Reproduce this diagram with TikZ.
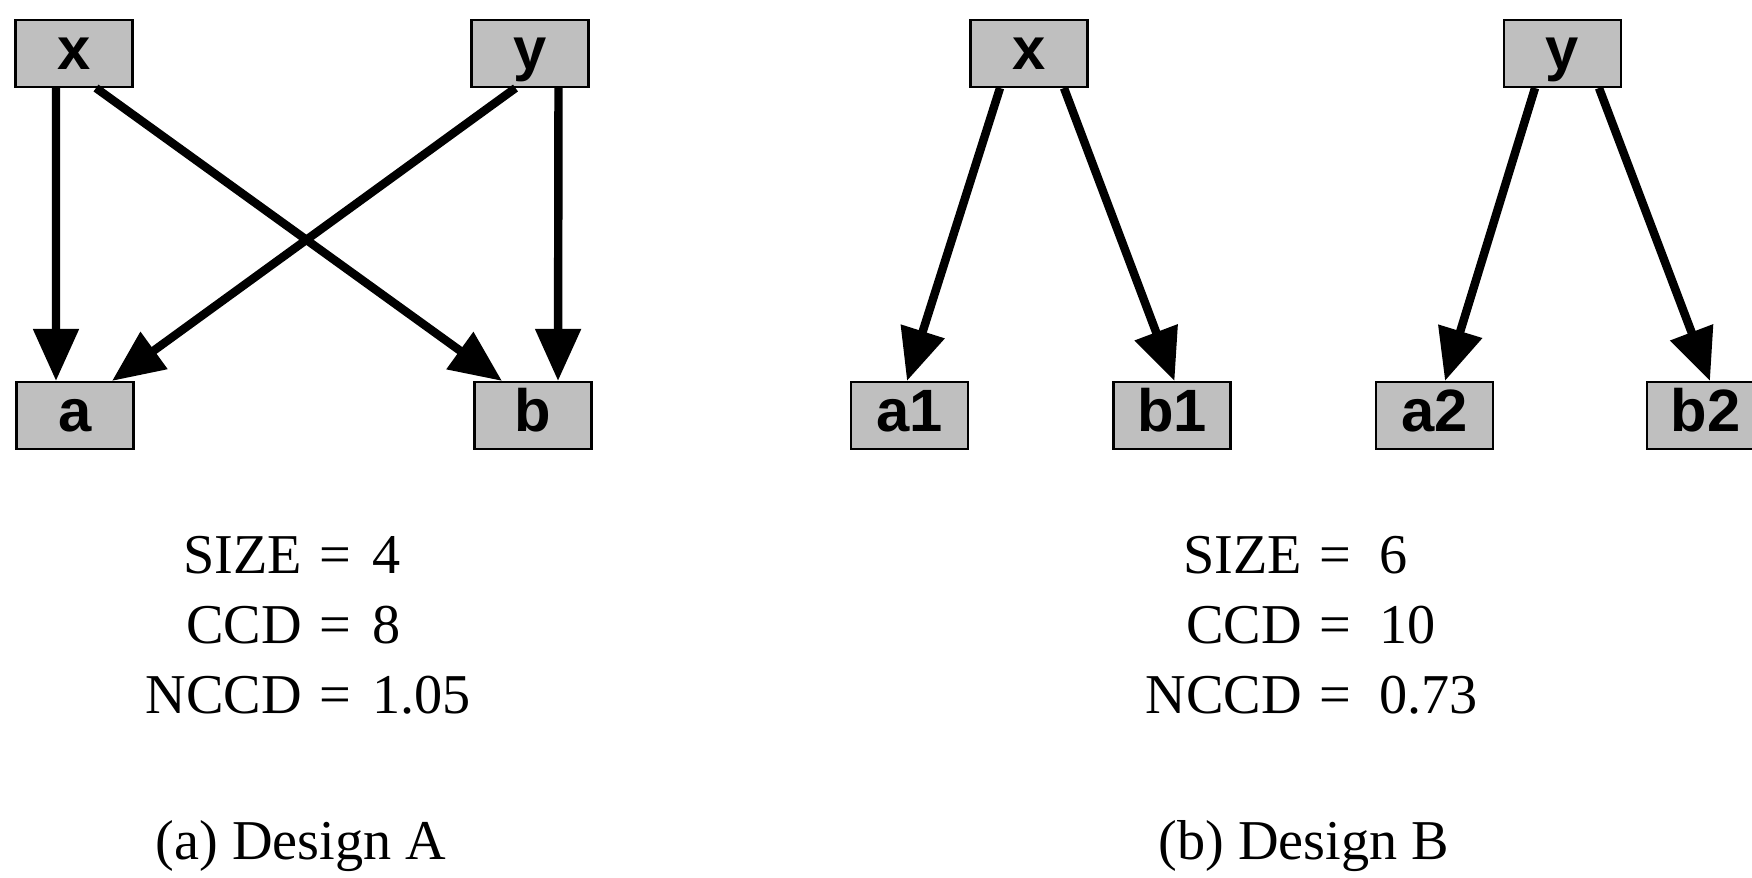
\documentclass[tikz,border=0pt]{standalone}
\usepackage{fontspec}
\setmainfont{Liberation Serif}
\newfontfamily\boxfont{Liberation Sans}
\usetikzlibrary{arrows.meta}

\begin{document}
\begin{tikzpicture}[
  cls/.style={draw, line width=0.6pt, fill=gray!50, minimum width=1.17cm, minimum height=0.67cm, inner sep=0pt, text height=12.5pt, text depth=3.4pt, font=\boxfont\bfseries\fontsize{17}{17}\selectfont},
  arr/.style={-{Triangle[length=5.2mm, width=4.4mm]}, line width=2.4pt},
  metric/.style={anchor=north west, inner sep=0pt, font=\fontsize{16}{19.9}\selectfont},
  subcap/.style={anchor=base, inner sep=0pt, font=\fontsize{16}{19.9}\selectfont}
]
\clip (0,0) rectangle (17.52,8.78);

% design A
\node[cls] at (0.74, 8.245) (xa) {x};
\node[cls] at (5.30, 8.245) (ya) {y};
\node[cls] at (0.75, 4.625) (aa) {a};
\node[cls] at (5.33, 4.625) (ba) {b};

\draw[arr] ([xshift=-0.18cm]xa.south) -- ([xshift=-0.19cm]aa.north);
\draw[arr] ([xshift=0.22cm]xa.south) -- ([xshift=-0.31cm]ba.north);
\draw[arr] ([xshift=-0.145cm]ya.south) -- ([xshift=0.37cm]aa.north);
\draw[arr] ([xshift=0.285cm]ya.south) -- ([xshift=0.25cm]ba.north);

\node[metric] at (1.45, 3.54) (ma) {\begin{tabular}{@{}r@{\hspace{5pt}=\hspace{6pt}}l@{}}SIZE & 4\\ CCD & 8\\ NCCD & 1.05\end{tabular}};
\node[subcap] at (3.01, 0.18) (capa) {(a) Design A};

% design B
\node[cls] at (10.29, 8.245) (xb) {x};
\node[cls] at (15.625, 8.245) (yb) {y};
\node[cls] at (9.095, 4.625) (a1) {a1};
\node[cls] at (11.72, 4.625) (b1) {b1};
\node[cls] at (14.345, 4.625) (a2) {a2};
\node[cls] at (17.055, 4.625) (b2) {b2};

\draw[arr] ([xshift=-0.29cm]xb.south) -- ([xshift=-0.025cm]a1.north);
\draw[arr] ([xshift=0.35cm]xb.south) -- ([xshift=0.025cm]b1.north);
\draw[arr] ([xshift=-0.275cm]yb.south) -- ([xshift=0.105cm]a2.north);
\draw[arr] ([xshift=0.365cm]yb.south) -- ([xshift=0.045cm]b2.north);

\node[metric] at (11.45, 3.54) (mb) {\begin{tabular}{@{}r@{\hspace{5pt}=\hspace{8pt}}l@{}}SIZE & 6\\ CCD & 10\\ NCCD & 0.73\end{tabular}};
\node[subcap] at (13.04, 0.18) (capb) {(b) Design B};

\end{tikzpicture}
\end{document}
